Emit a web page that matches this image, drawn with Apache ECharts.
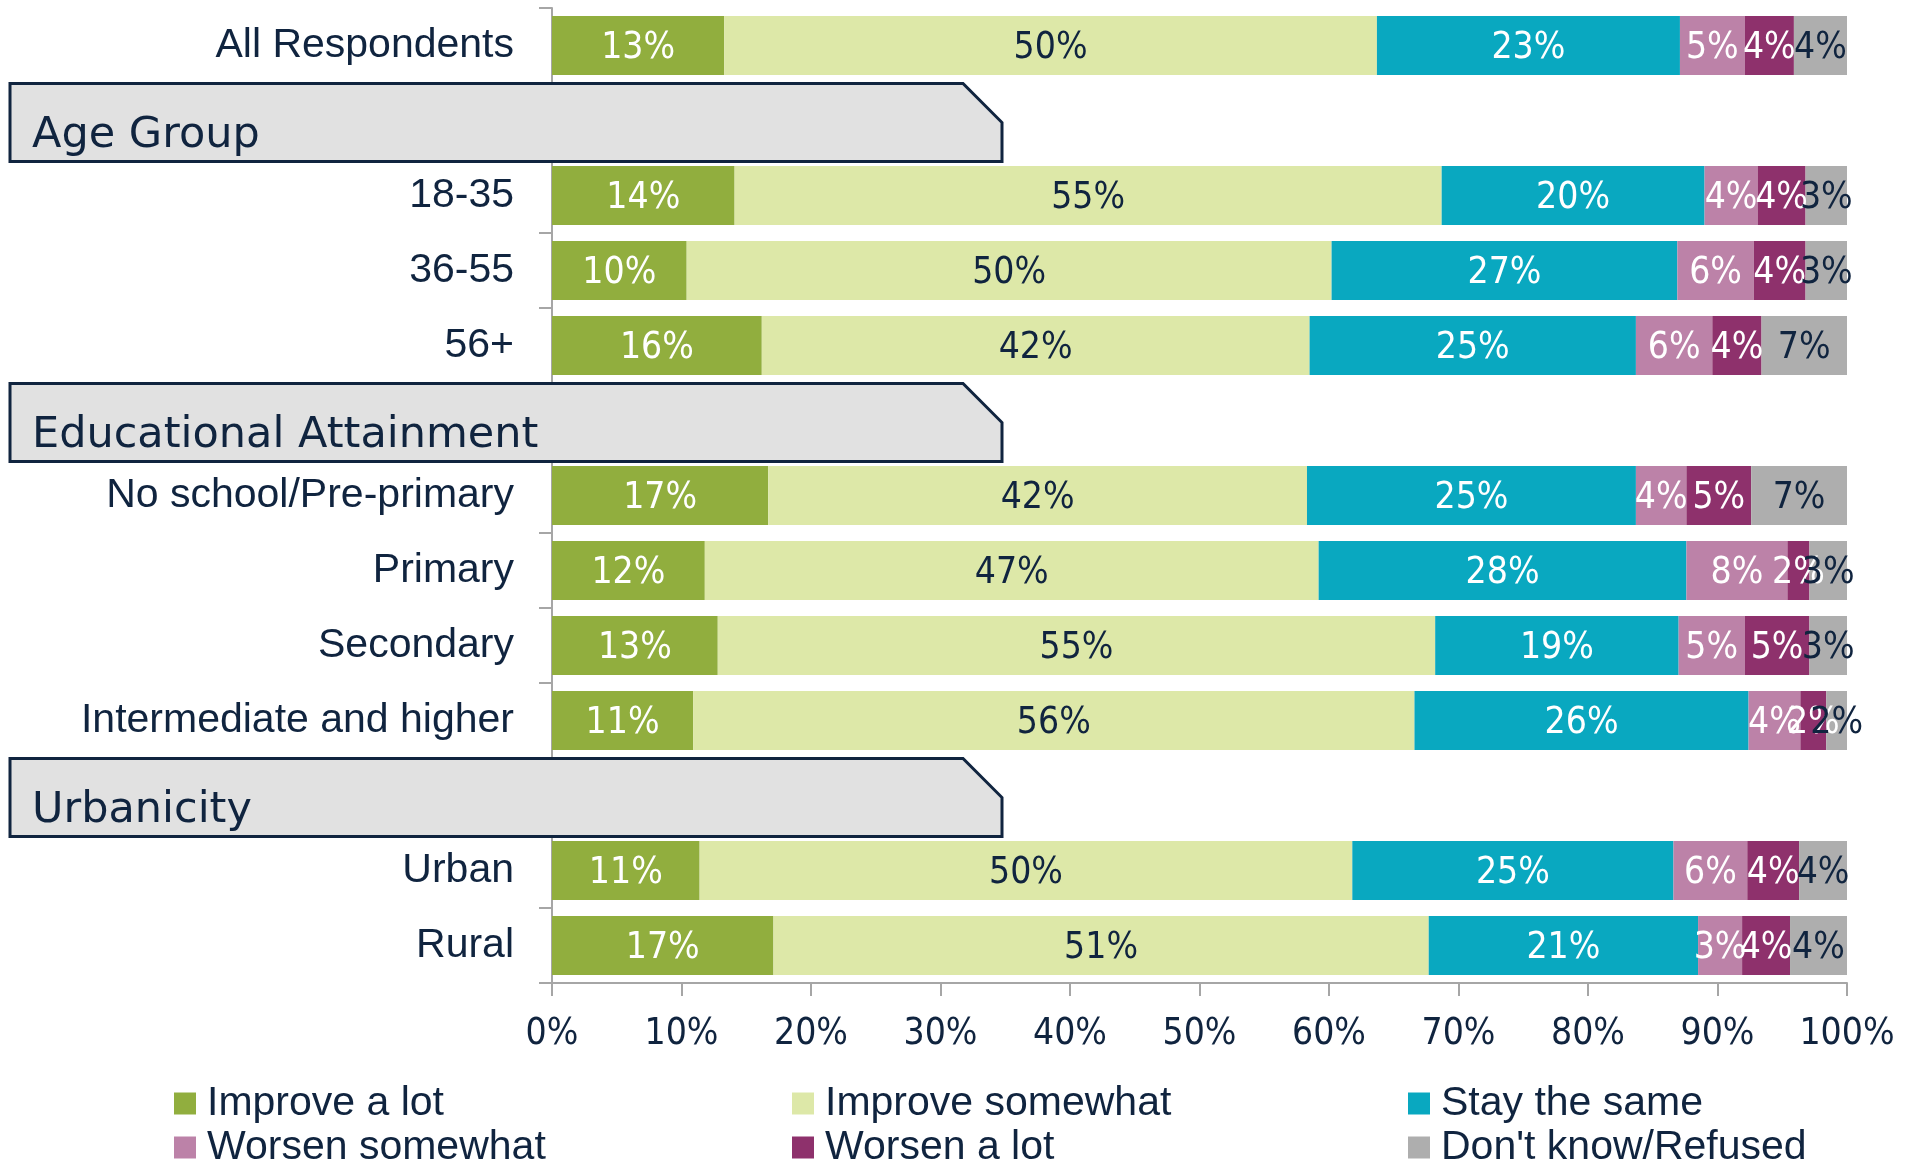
<!DOCTYPE html>
<html>
<head>
<meta charset="utf-8">
<script src="https://cdn.jsdelivr.net/npm/echarts@6/dist/echarts.min.js"></script>
<style>
  html, body { margin: 0; padding: 0; background: #fff; }
  #main { width: 1911px; height: 1162px; }
</style>
</head>
<body>
<div id="main"></div>
<script>
// 行分类（含分组标题行）
const categories = ['All Respondents', 'Age Group', '18-35', '36-55', '56+',
  'Educational Attainment', 'No school/Pre-primary', 'Primary', 'Secondary', 'Intermediate and higher',
  'Urbanicity', 'Urban', 'Rural']
const headerRows = ['Age Group', 'Educational Attainment', 'Urbanicity']

// 各系列百分比（标题行为 null）
const improveALot     = [13.3, null, 14.1, 10.4, 16.2, null, 16.7, 11.8, 12.8, 10.9, null, 11.4, 17.1]
const improveSomewhat = [50.4, null, 54.6, 49.8, 42.3, null, 41.6, 47.4, 55.4, 55.7, null, 50.4, 50.6]
const staySame        = [23.4, null, 20.3, 26.7, 25.2, null, 25.4, 28.4, 18.8, 25.8, null, 24.8, 20.8]
const worsenSomewhat  = [5.0, null, 4.1, 5.9, 5.9, null, 3.9, 7.8, 5.1, 4.0, null, 5.7, 3.4]
const worsenALot      = [3.8, null, 3.7, 4.0, 3.8, null, 5.0, 1.7, 5.0, 2.0, null, 4.0, 3.7]
const dontKnow        = [4.1, null, 3.2, 3.2, 6.6, null, 7.4, 2.9, 2.9, 1.6, null, 3.7, 4.4]

const seriesNames = ['Improve a lot', 'Improve somewhat', 'Stay the same', 'Worsen somewhat', 'Worsen a lot', "Don't know/Refused"]
const xTicks = [0, 10, 20, 30, 40, 50, 60, 70, 80, 90, 100]

const navy = '#10243F'
const gray = '#A6A6A6'
const colors = ['#91AE3E', '#DDE8A8', '#09A8C0', '#BC82A8', '#8E316C', '#AEAEAE']
const labelColors = ['#fff', navy, '#fff', '#fff', '#fff', navy]
const numFont = '"Liberation Sans Narrow", "DejaVu Sans Condensed", sans-serif'
const textFont = '"Liberation Sans", Arial, sans-serif'

const myChart = echarts.init(document.getElementById('main'))

function barSeries(name, data, idx) {
  return {
    name: name,
    type: 'bar',
    stack: 'total',
    barWidth: 59,
    data: data,
    itemStyle: { color: colors[idx] },
    label: {
      show: true,
      position: 'inside',
      offset: [0, 3],
      color: labelColors[idx],
      fontFamily: numFont,
      fontSize: 37,
      formatter: p => Math.round(p.value) + '%'
    }
  }
}

// 图例分三列，每列两项
function legendCol(left, names) {
  return {
    orient: 'vertical',
    left: left,
    top: 1083,
    height: 100,
    padding: 0,
    itemWidth: 22,
    itemHeight: 22,
    itemGap: 3,
    icon: 'rect',
    data: names,
    textStyle: { color: navy, fontFamily: textFont, fontSize: 41, lineHeight: 40, padding: [0, 0, 0, 6] }
  }
}

const option = {
  animation: false,
  color: colors,
  grid: { left: 552, right: 64, top: 8, bottom: 179 },
  legend: [
    legendCol(174, [seriesNames[0], seriesNames[3]]),
    legendCol(792, [seriesNames[1], seriesNames[4]]),
    legendCol(1408, [seriesNames[2], seriesNames[5]])
  ],
  xAxis: {
    type: 'value',
    min: xTicks[0],
    max: xTicks[xTicks.length - 1],
    interval: 10,
    splitLine: { show: false },
    axisLine: { show: true, lineStyle: { color: gray, width: 2 } },
    axisTick: { show: true, length: 13, lineStyle: { color: gray, width: 2 } },
    axisLabel: { color: navy, fontFamily: numFont, fontSize: 37, margin: 33, formatter: '{value}%' }
  },
  yAxis: {
    type: 'category',
    inverse: true,
    data: categories,
    axisLine: { show: true, lineStyle: { color: gray, width: 2 } },
    axisTick: { show: true, length: 13, lineStyle: { color: gray, width: 2 } },
    axisLabel: {
      color: navy,
      fontFamily: textFont,
      fontSize: 41,
      margin: 38,
      padding: [10, 0, 0, 0],
      formatter: v => headerRows.indexOf(v) >= 0 ? '' : v
    }
  },
  series: [
    barSeries(seriesNames[0], improveALot, 0),
    barSeries(seriesNames[1], improveSomewhat, 1),
    barSeries(seriesNames[2], staySame, 2),
    barSeries(seriesNames[3], worsenSomewhat, 3),
    barSeries(seriesNames[4], worsenALot, 4),
    barSeries(seriesNames[5], dontKnow, 5)
  ]
}
myChart.setOption(option)

// 分组标题框：按类目轴位置摆放
const headerGraphics = []
headerRows.forEach(name => {
  const c = myChart.convertToPixel({ yAxisIndex: 0 }, name)
  headerGraphics.push({
    type: 'polygon',
    z: 100,
    shape: { points: [[10, c - 37], [963, c - 37], [1002, c + 2], [1002, c + 41], [10, c + 41]] },
    style: { fill: '#E1E1E1', stroke: navy, lineWidth: 3 }
  })
  headerGraphics.push({
    type: 'text',
    z: 101,
    x: 32,
    y: c + 15,
    style: { text: name, fill: navy, font: '43px "DejaVu Sans"', verticalAlign: 'middle' }
  })
})
myChart.setOption({ graphic: headerGraphics })
</script>
</body>
</html>
